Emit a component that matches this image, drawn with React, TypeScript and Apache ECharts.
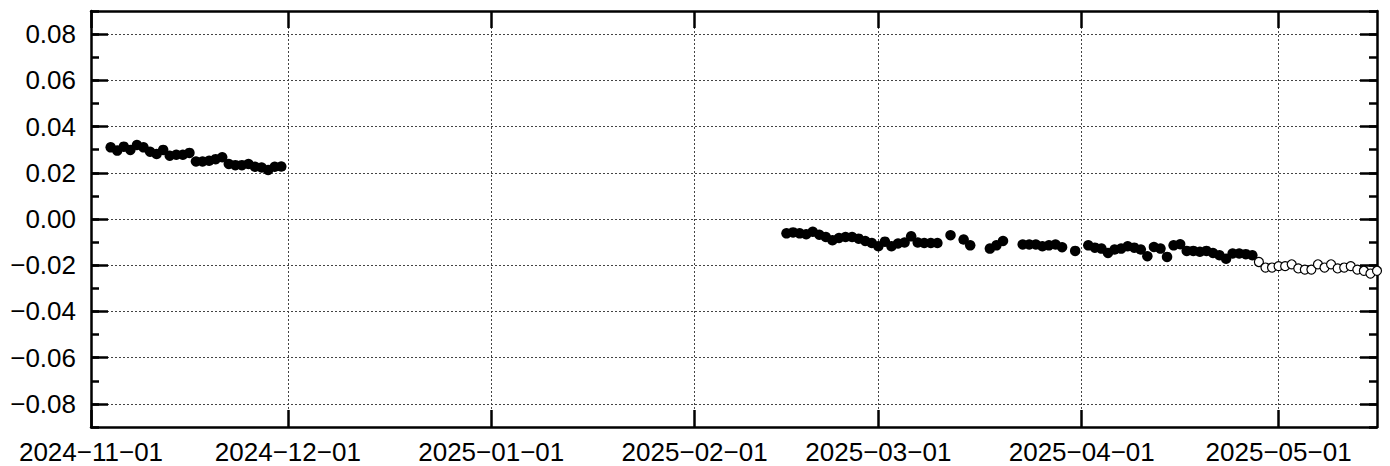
import React, { useEffect, useRef } from "react";
import * as echarts from "echarts";

// ---- data ----
const seg1Dates = [
  "2024-11-04", "2024-11-05", "2024-11-06", "2024-11-07", "2024-11-08", "2024-11-09", "2024-11-10",
  "2024-11-11", "2024-11-12", "2024-11-13", "2024-11-14", "2024-11-15", "2024-11-16", "2024-11-17",
  "2024-11-18", "2024-11-19", "2024-11-20", "2024-11-21", "2024-11-22", "2024-11-23", "2024-11-24",
  "2024-11-25", "2024-11-26", "2024-11-27", "2024-11-28", "2024-11-29", "2024-11-30",
];
const seg1Values = [
  0.031, 0.0296, 0.0313, 0.0299, 0.032, 0.031, 0.0291,
  0.0281, 0.0299, 0.0274, 0.0278, 0.0278, 0.0286, 0.0249,
  0.0249, 0.0252, 0.0259, 0.0267, 0.0238, 0.0233, 0.0233,
  0.0238, 0.0226, 0.0223, 0.0212, 0.0226, 0.0227,
];

const seg2Dates = [
  "2025-02-15", "2025-02-16", "2025-02-17", "2025-02-18", "2025-02-19", "2025-02-20", "2025-02-21",
  "2025-02-22", "2025-02-23", "2025-02-24", "2025-02-25", "2025-02-26", "2025-02-27", "2025-02-28",
  "2025-03-01", "2025-03-02", "2025-03-03", "2025-03-04", "2025-03-05", "2025-03-06", "2025-03-07",
  "2025-03-08", "2025-03-09", "2025-03-10", "2025-03-12", "2025-03-14", "2025-03-15", "2025-03-18",
  "2025-03-19", "2025-03-20", "2025-03-23", "2025-03-24", "2025-03-25", "2025-03-26", "2025-03-27",
  "2025-03-28", "2025-03-29", "2025-03-31", "2025-04-02", "2025-04-03", "2025-04-04", "2025-04-05",
  "2025-04-06", "2025-04-07", "2025-04-08", "2025-04-09", "2025-04-10", "2025-04-11", "2025-04-12",
  "2025-04-13", "2025-04-14", "2025-04-15", "2025-04-16", "2025-04-17", "2025-04-18", "2025-04-19",
  "2025-04-20", "2025-04-21", "2025-04-22", "2025-04-23", "2025-04-24", "2025-04-25", "2025-04-26",
  "2025-04-27",
];
const seg2Values = [
  -0.0062, -0.0058, -0.0062, -0.0066, -0.0055, -0.0068, -0.0078,
  -0.0092, -0.0082, -0.0078, -0.0078, -0.0085, -0.0095, -0.0104,
  -0.0118, -0.0098, -0.0118, -0.0106, -0.0102, -0.0075, -0.0102,
  -0.0104, -0.0104, -0.0104, -0.007, -0.0089, -0.0114, -0.0128,
  -0.0114, -0.0095, -0.011, -0.011, -0.011, -0.0118, -0.0114,
  -0.011, -0.0122, -0.0138, -0.0114, -0.0124, -0.0128, -0.0147,
  -0.0132, -0.0128, -0.0118, -0.0124, -0.0132, -0.0161, -0.0121,
  -0.0128, -0.0164, -0.0114, -0.0109, -0.0138, -0.0138, -0.0142,
  -0.0138, -0.0147, -0.0157, -0.0172, -0.0149, -0.0149, -0.0152,
  -0.0157,
];

const openDates = [
  "2025-04-28", "2025-04-29", "2025-04-30", "2025-05-01", "2025-05-02", "2025-05-03", "2025-05-04",
  "2025-05-05", "2025-05-06", "2025-05-07", "2025-05-08", "2025-05-09", "2025-05-10", "2025-05-11",
  "2025-05-12", "2025-05-13", "2025-05-14", "2025-05-15", "2025-05-16",
];
const openValues = [
  -0.0186, -0.021, -0.021, -0.0204, -0.0204, -0.0196, -0.0214,
  -0.0219, -0.0219, -0.0196, -0.021, -0.0196, -0.0214, -0.021,
  -0.0204, -0.0219, -0.0224, -0.0236, -0.0224,
];

const xMin = "2024-11-01";
const xMax = "2025-05-16";
const monthTicks = [
  "2024-11-01", "2024-12-01", "2025-01-01", "2025-02-01", "2025-03-01", "2025-04-01", "2025-05-01",
];
const yMajorTicks = [-0.08, -0.06, -0.04, -0.02, 0, 0.02, 0.04, 0.06, 0.08];
const yMin = -0.09;
const yMax = 0.09;
const yMinorStep = 0.01;

// ---- helpers ----
const parseLocal = (s: string) => {
  const [y, m, d] = s.split("-").map(Number);
  return new Date(y, m - 1, d).getTime();
};
const pad = (n: number) => (n < 10 ? "0" + n : "" + n);
const MINUS = "\u2212";
const fmtDate = (v: number) => {
  const d = new Date(v);
  return `${d.getFullYear()}${MINUS}${pad(d.getMonth() + 1)}${MINUS}${pad(d.getDate())}`;
};
const fmtNum = (v: number) => {
  const r = Math.round(v * 100) / 100;
  const s = Math.abs(r).toFixed(2);
  return r < 0 ? MINUS + s : s;
};

const FONT = "Liberation Sans";
const BLACK = "#000";

export default function App() {
  const ref = useRef<HTMLDivElement>(null);

  useEffect(() => {
    if (!ref.current) return;
    const chart = echarts.init(ref.current, undefined, { renderer: "svg" });
    const monthTs = monthTicks.map(parseLocal);
    const minTs = parseLocal(xMin);
    const maxTs = parseLocal(xMax);

    const axisLine = { show: true, onZero: false, lineStyle: { color: BLACK, width: 2.5 } };
    const noLine = { show: false, onZero: false };
    const gridDash = { show: true, lineStyle: { color: "#444", width: 1, type: [2, 2] as any } };
    const majorTick = (vals: number[]) => ({
      show: true, inside: true, length: 17, lineStyle: { color: BLACK, width: 2.5 }, customValues: vals,
    });
    const minorTick = { show: true, inside: true, length: 8, lineStyle: { color: BLACK, width: 2.5 } };

    const option: any = {
      animation: false,
      backgroundColor: "#fff",
      grid: { left: 91, right: 13, top: 11, bottom: 39, containLabel: false },
      xAxis: [
        {
          type: "value",
          position: "bottom",
          min: minTs,
          max: maxTs,
          scale: true,
          axisLine,
          axisTick: majorTick(monthTs),
          axisLabel: {
            show: true,
            customValues: monthTs,
            formatter: (v: number) => fmtDate(v),
            color: BLACK,
            fontFamily: FONT,
            fontSize: 26,
            margin: 12,
            showMinLabel: true,
            showMaxLabel: true,
          },
          splitLine: gridDash,
        },
        {
          type: "value",
          position: "top",
          min: minTs,
          max: maxTs,
          scale: true,
          axisLine,
          axisTick: majorTick(monthTs),
          axisLabel: { show: false },
          splitLine: { show: false },
        },
      ],
      yAxis: [
        {
          type: "value",
          position: "left",
          min: yMin,
          max: yMax,
          interval: yMinorStep,
          axisLine,
          axisTick: minorTick,
          axisLabel: { show: false },
          splitLine: { show: false },
        },
        {
          type: "value",
          position: "left",
          min: yMin,
          max: yMax,
          axisLine: noLine,
          axisTick: majorTick(yMajorTicks),
          axisLabel: {
            show: true,
            customValues: yMajorTicks,
            formatter: (v: number) => fmtNum(v),
            color: BLACK,
            fontFamily: FONT,
            fontSize: 26,
            margin: 15,
          },
          splitLine: gridDash,
        },
        {
          type: "value",
          position: "right",
          min: yMin,
          max: yMax,
          interval: yMinorStep,
          axisLine,
          axisTick: minorTick,
          axisLabel: { show: false },
          splitLine: { show: false },
        },
        {
          type: "value",
          position: "right",
          min: yMin,
          max: yMax,
          axisLine: noLine,
          axisTick: majorTick(yMajorTicks),
          axisLabel: { show: false },
          splitLine: { show: false },
        },
      ],
      series: [
        {
          type: "scatter",
          xAxisIndex: 0,
          yAxisIndex: 0,
          symbol: "circle",
          symbolSize: 10.5,
          itemStyle: { color: BLACK, opacity: 1 },
          data: seg1Dates.map((d, i) => [parseLocal(d), seg1Values[i]]),
          z: 5,
        },
        {
          type: "scatter",
          xAxisIndex: 0,
          yAxisIndex: 0,
          symbol: "circle",
          symbolSize: 10.5,
          itemStyle: { color: BLACK, opacity: 1 },
          data: seg2Dates.map((d, i) => [parseLocal(d), seg2Values[i]]),
          z: 5,
        },
        {
          type: "scatter",
          xAxisIndex: 0,
          yAxisIndex: 0,
          symbol: "circle",
          symbolSize: 9,
          itemStyle: { color: "#fff", borderColor: BLACK, borderWidth: 1.2, opacity: 1 },
          data: openDates.map((d, i) => [parseLocal(d), openValues[i]]),
          z: 5,
        },
      ],
    };
    chart.setOption(option);
    return () => chart.dispose();
  }, []);

  return (
    <div
      ref={ref}
      style={{ position: "absolute", left: 0, top: 0, width: 1390, height: 466, background: "#fff" }}
    />
  );
}
